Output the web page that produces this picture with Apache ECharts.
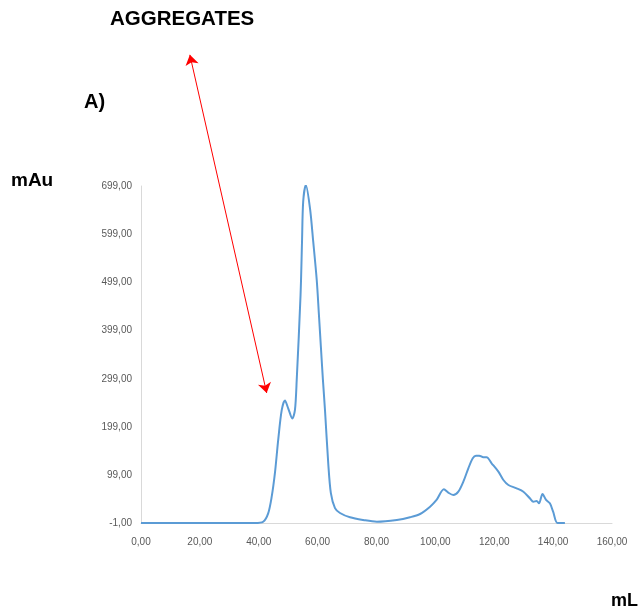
<!DOCTYPE html>
<html>
<head>
<meta charset="utf-8">
<script src="https://cdn.jsdelivr.net/npm/echarts@6/dist/echarts.min.js"></script>
<style>
  html, body { margin: 0; padding: 0; background: #ffffff; }
  #chart { width: 641px; height: 614px; }
</style>
</head>
<body>
<div id="chart"></div>
<script>
// Elution volume (mL) and absorbance (mAu) of the chromatogram trace
const volumeML = [
  0, 38.7, 41.5, 43.2, 44.4, 45.5, 46.6, 47.8, 48.9, 50.0, 51.4, 52.3, 52.9,
  54.2, 54.7, 55.1, 56.0, 57.4, 58.5, 59.7, 60.4, 61.1, 61.8, 62.5, 63.6,
  64.5, 65.9, 67.6, 71.0, 75.5, 80.1, 86.9, 91.4, 94.8, 98.2, 100.4, 102.9,
  104.4, 106.1, 107.8, 109.5, 111.2, 112.7, 113.8, 114.9, 116.3, 117.4,
  119.1, 121.4, 123.1, 124.8, 127.6, 129.9, 132.1, 133.3, 134.4, 135.2,
  136.4, 137.6, 138.9, 140.0, 141.5, 144.0
];
const absorbanceMAu = [
  0, 0, 2.7, 20, 54.6, 103.8, 172, 234, 254, 238, 217, 234.5, 297,
  473, 584, 667, 701, 653, 584, 504, 436, 366, 297, 234.5, 124.5,
  62, 31, 20.8, 11.9, 6.3, 2.7, 6.3, 11.9, 18.7, 33.9, 47.8, 70,
  62.9, 58.1, 65, 85.7, 113.5, 134.3, 139.7, 139.7, 136.3, 136.3,
  123.9, 106.5, 89.2, 78.9, 72, 65, 51.3, 44.2, 45.7, 40.9,
  60.2, 47.8, 40.9, 23.5, 0, 0
];

// Axis ranges and tick spacing
const xRange = [0, 160];
const xStep = 20;
const yRange = [-1, 699];
const yStep = 100;

// Double-headed annotation arrow pointing at the aggregate shoulder (data units)
const arrowFrom = [16.6, 971];
const arrowTo = [42.7, 269.7];

const trace = volumeML.map((v, i) => [v, absorbanceMAu[i]]);
const fmt = v => v.toFixed(2).replace('.', ',');

const chart = echarts.init(document.getElementById('chart'));
const heading = { fontWeight: 'bold', color: '#000' };
chart.setOption({
  animation: false,
  backgroundColor: '#ffffff',
  textStyle: { fontFamily: 'Liberation Sans, Arial, sans-serif' },
  title: [
    { text: 'AGGREGATES', left: 110, top: 9, padding: 0,
      textStyle: Object.assign({ fontSize: 20.5 }, heading) },
    { text: 'A)', left: 84, top: 92, padding: 0,
      textStyle: Object.assign({ fontSize: 20 }, heading) },
    { text: 'mAu', left: 11, top: 171, padding: 0,
      textStyle: Object.assign({ fontSize: 19 }, heading) },
    { text: 'mL', left: 611, top: 592, padding: 0,
      textStyle: Object.assign({ fontSize: 18 }, heading) }
  ],
  grid: { left: 141, right: 29, top: 186, bottom: 90.5, containLabel: false },
  xAxis: {
    type: 'value',
    min: xRange[0], max: xRange[1], interval: xStep,
    axisLine: { show: true, onZero: false, lineStyle: { color: '#d9d9d9', width: 1 } },
    axisTick: { show: false },
    splitLine: { show: false },
    axisLabel: { color: '#595959', fontSize: 10, margin: 14, formatter: fmt }
  },
  yAxis: {
    type: 'value',
    min: yRange[0], max: yRange[1], interval: yStep,
    axisLine: { show: true, lineStyle: { color: '#d9d9d9', width: 1 } },
    axisTick: { show: false },
    splitLine: { show: false },
    axisLabel: { color: '#595959', fontSize: 10, margin: 9, formatter: fmt }
  },
  series: [
    {
      type: 'line',
      data: trace,
      smooth: 0.3,
      showSymbol: false,
      lineStyle: { color: '#5b9bd5', width: 2 }
    },
    {
      type: 'lines',
      coordinateSystem: 'cartesian2d',
      clip: false,
      silent: true,
      symbol: ['arrow', 'arrow'],
      symbolSize: 10,
      lineStyle: { color: '#ff0000', width: 1, opacity: 1, curveness: 0 },
      data: [{ coords: [arrowFrom, arrowTo] }]
    }
  ]
});
</script>
</body>
</html>
